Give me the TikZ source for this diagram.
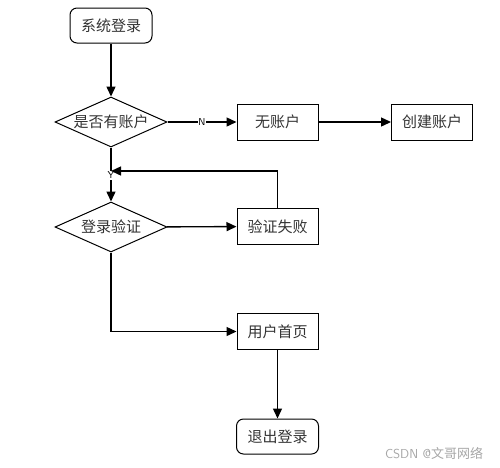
\documentclass[tikz,border=0pt]{standalone}
\usepackage{fontspec}
\newfontfamily\cjk{Noto Sans CJK SC}
\usetikzlibrary{shapes.geometric,arrows.meta}
\begin{document}
\begin{tikzpicture}[x=1pt,y=-1pt,
  base/.style={draw=black,line width=1pt,font=\cjk\fontsize{15}{18}\selectfont,inner sep=0pt,text=black!80},
  term/.style={base,rounded corners=7pt,minimum width=82pt,minimum height=35pt},
  proc/.style={base,minimum width=81pt,minimum height=36pt},
  dec/.style={base,diamond,aspect=2.24,minimum width=112pt,minimum height=50pt},
  conn/.style={line width=1.4pt,-{Triangle[length=10pt,width=9pt]}},
  plain/.style={line width=1.4pt},
  lab/.style={font=\sffamily\fontsize{10}{11}\selectfont,fill=white,inner sep=0.8pt}]
\useasboundingbox (0,0) rectangle (500,467);
\node[term] (start) at (111,25.5) {系统登录};
\node[dec] (d1) at (111,122) {是否有账户};
\node[proc] (none) at (277.5,122) {无账户};
\node[proc] (create) at (432,122) {创建账户};
\node[dec] (d2) at (111,227) {登录验证};
\node[proc] (fail) at (277.5,226.5) {验证失败};
\node[proc] (home) at (277.5,331.5) {用户首页};
\node[term] (logout) at (277.5,436.5) {退出登录};
\node[font=\sffamily\fontsize{13}{14}\selectfont,text=black!35] (wm) at (434,453) {CSDN @{\cjk 文哥网络}};
\coordinate (ret) at (111,171);
\draw[conn] (start) -- (d1);
\draw[conn] (d1) -- node[lab] (nl) {N} (none);
\draw[conn] (none) -- (create);
\draw[plain] (d1.south) -- (ret);
\draw[conn] (ret) -- node[lab,pos=0.14] (yl) {Y} (d2.north);
\draw[conn] (fail.north) |- (ret);
\draw[conn] (d2) -- (fail);
\draw[conn] (d2.south) |- (home.west);
\draw[conn] (home) -- (logout);
\end{tikzpicture}
\end{document}
